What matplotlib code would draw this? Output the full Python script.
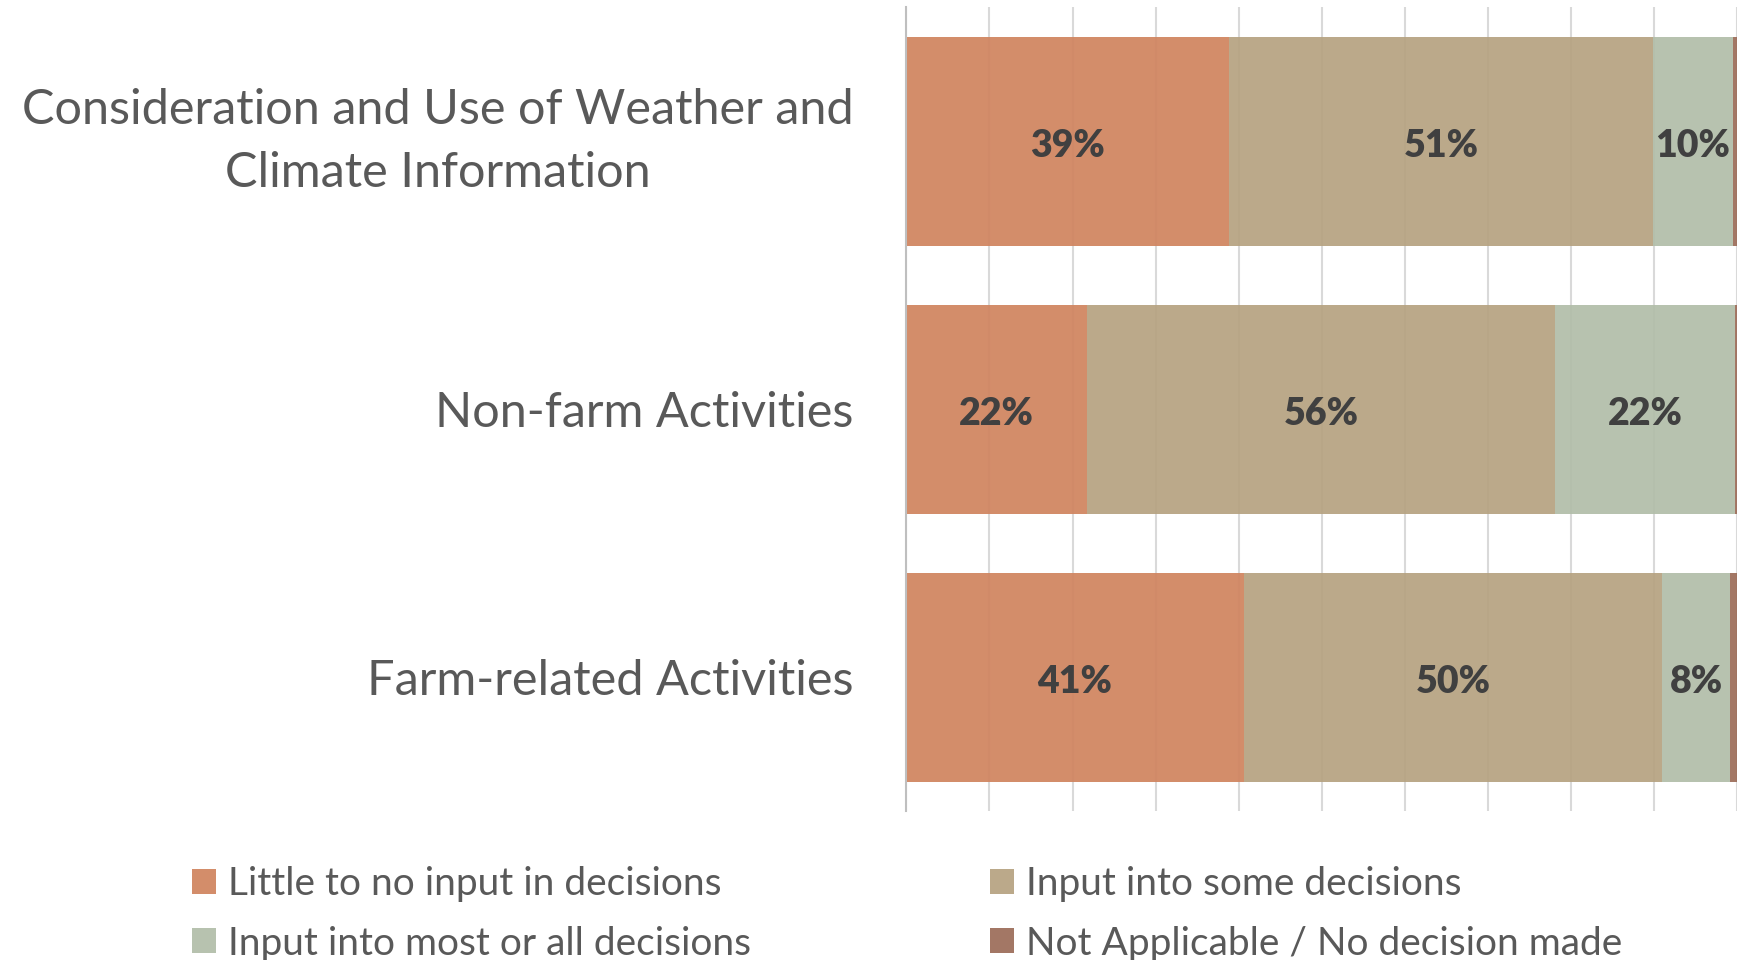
import matplotlib.pyplot as plt
import numpy as np

plt.rcParams['font.family'] = ['Lato', 'DejaVu Sans']

# data (percent of respondents), bottom row first as drawn
categories = ['Farm-related Activities', 'Non-farm Activities',
              'Consideration and Use of Weather and\nClimate Information']
little = [40.6, 21.7, 38.8]
some = [50.4, 56.4, 51.1]
most = [8.2, 21.7, 9.6]
na = [0.8, 0.2, 0.5]
series_names = ['Little to no input in decisions', 'Input into some decisions',
                'Input into most or all decisions', 'Not Applicable / No decision made']

colors = ['#d0845f', '#b6a381', '#b2bea9', '#9c6d59']
text_col = '#595959'

fig = plt.figure(figsize=(17.43, 9.6), dpi=100)
ax = fig.add_axes([0.52, 0.1547, 0.4766, 0.8375])

y = np.arange(len(categories))
left = np.zeros(len(categories))
bars = []
for vals, c, name in zip([little, some, most, na], colors, series_names):
    b = ax.barh(y, vals, left=left, height=0.78, color=c, alpha=0.93, label=name, zorder=2)
    bars.append(b)
    for yi, v, l in zip(y, vals, left):
        if v >= 5:
            ax.text(l + v / 2, yi - 0.017, f'{round(v):.0f}%', ha='center', va='center',
                    fontsize=27, fontweight='heavy', color='#404040', zorder=3)
    left += np.array(vals)

ax.set_xlim(0, 100)
ax.set_ylim(-0.5, 2.5)
ax.set_xticks(np.arange(0, 101, 10))
ax.xaxis.grid(True, color='#d9d9d9', linewidth=1.5, zorder=0)
ax.set_axisbelow(True)
ax.tick_params(axis='x', length=0, labelbottom=False)
ax.tick_params(axis='y', length=0, pad=38, labelsize=35, labelcolor=text_col)
ax.set_yticks(y)
ax.set_yticklabels(categories, ha='right', multialignment='center', linespacing=1.55)
# multi-line label: centre the whole block on the bar
for lab in ax.get_yticklabels():
    if '\n' in lab.get_text():
        lab.set_va('center')
for s in ['top', 'right', 'bottom']:
    ax.spines[s].set_visible(False)
ax.spines['left'].set_color('#bfbfbf')
ax.spines['left'].set_linewidth(1.5)

leg_kw = dict(frameon=False, fontsize=28, labelcolor=text_col, handlelength=0.62,
              handleheight=0.62, handletextpad=0.3, labelspacing=0.6, borderpad=0)
leg1 = fig.legend([bars[0], bars[2]], [series_names[0], series_names[2]],
                  loc='center left', bbox_to_anchor=(0.099, 0.048), **leg_kw)
leg2 = fig.legend([bars[1], bars[3]], [series_names[1], series_names[3]],
                  loc='center left', bbox_to_anchor=(0.557, 0.048), **leg_kw)

fig.savefig('out.png', dpi=100)
